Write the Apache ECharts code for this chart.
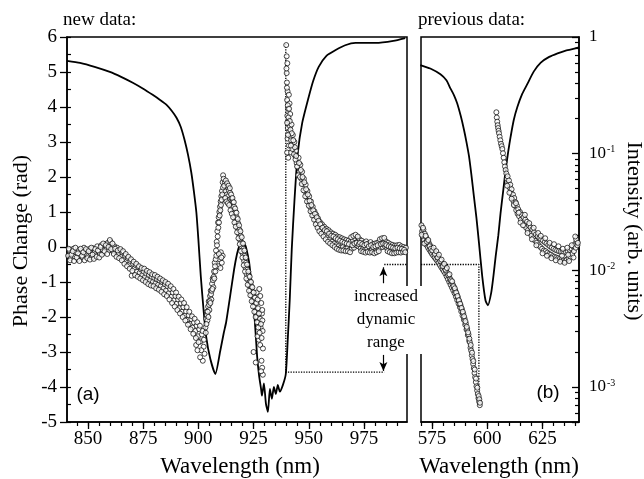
<!DOCTYPE html>
<html><head><meta charset="utf-8">
<script src="https://cdn.jsdelivr.net/npm/echarts@6/dist/echarts.min.js"></script>
<style>html,body{margin:0;padding:0;background:#fff}#c{width:644px;height:479px}</style>
</head><body><div id="c"></div>
<script>
// ---------- tick labels ----------
const xTicksA = [850, 875, 900, 925, 950, 975];
const xTicksB = [575, 600, 625];
const logMinorTicks = [0.0006,0.0007,0.0008,0.0009,0.002,0.003,0.004,0.005,0.006,0.007,0.008,0.009,
  0.02,0.03,0.04,0.05,0.06,0.07,0.08,0.09,0.2,0.3,0.4,0.5,0.6,0.7,0.8,0.9];

// ---------- panel (a): new data ----------
// measured phase change (rad) vs wavelength (nm)
const phaseA = [
[841.0,-0.25],[841.6,-0.10],[842.2,-0.32],[842.8,-0.18],[843.4,-0.05],[844.0,-0.28],[844.6,-0.15],[845.2,-0.35],[845.8,-0.08],[846.4,-0.22],
[847.0,-0.12],[847.6,-0.30],[848.2,-0.02],[848.8,-0.20],[849.4,-0.10],[850.0,-0.26],[850.6,-0.06],[851.2,-0.18],[851.8,-0.30],[852.4,-0.04],
[853.0,-0.16],[853.6,-0.24],[854.2,0.02],[854.8,-0.12],[855.4,-0.20],[856.0,0.05],[856.6,-0.08],[857.2,-0.16],[857.8,0.08],[858.4,-0.04],
[859.0,0.12],[859.6,-0.10],[860.2,0.15],[860.8,0.00],[861.4,-0.12],
[862.0,0.02],[862.6,-0.12],[863.2,-0.02],[863.8,-0.20],[864.4,-0.10],[865.0,-0.28],[865.6,-0.16],[866.2,-0.35],[866.8,-0.25],[867.4,-0.42],
[868.0,-0.32],[868.6,-0.50],[869.2,-0.40],[869.8,-0.82],[870.4,-0.48],[871.0,-0.62],[871.6,-0.52],[872.2,-0.70],[872.8,-0.58],[873.4,-0.74],
[874.0,-0.64],[874.6,-0.80],[875.2,-0.70],[875.8,-0.86],[876.4,-0.76],[877.0,-0.92],[877.6,-0.80],[878.2,-0.96],[878.8,-0.85],[879.4,-1.00],
[880.0,-0.88],[880.6,-1.04],[881.2,-0.92],[881.8,-1.08],[882.4,-0.96],[883.0,-1.12],[883.6,-1.00],[884.2,-1.18],[884.8,-1.06],[885.4,-1.24],
[886.0,-1.12],[886.6,-1.32],[887.2,-1.20],[887.8,-1.42],[888.4,-1.30],[889.0,-1.52],[889.6,-1.40],[890.2,-1.62],[890.8,-1.50],[891.4,-1.75],
[892.0,-1.60],[892.6,-1.85],[893.2,-1.72],[893.8,-1.96],[894.4,-1.84],[895.0,-2.08],[895.6,-1.95],[896.2,-2.20],[896.8,-2.06],[897.4,-2.30],
[898.0,-2.16],[898.6,-2.40],[899.2,-2.25],[899.8,-2.55],[900.4,-2.35],[901.0,-2.70],[901.6,-2.50],[902.0,-3.25],[902.4,-2.85],[902.8,-3.05],
[901.3,-2.95],[899.0,-2.80],
[903.2,-2.30],[903.5,-2.05],[903.8,-1.85],[904.1,-2.10],[904.4,-1.70],[904.7,-1.55],[905.0,-1.80],[905.3,-1.40],[905.6,-1.25],[905.9,-1.50],
[906.2,-1.05],[906.5,-0.90],[906.8,-1.15],[907.1,-0.70],[907.4,-0.45],[907.7,-0.70],[908.0,-0.10],[908.3,0.15],[908.6,0.45],[908.9,0.70],
[909.2,0.85],[909.5,1.00],[909.8,1.15],[910.1,1.30],[910.4,1.45],[910.7,1.60],[911.0,1.85],[911.2,2.05],
[909.6,-0.35],[910.2,-0.15],[910.6,-0.45],[911.0,-0.25],[909.0,-0.55],[910.0,-0.60],
[912.0,1.85],[912.3,1.60],[912.6,1.75],[912.9,1.50],[913.2,1.70],[913.5,1.45],[913.8,1.62],[914.1,1.35],[914.4,1.55],[914.7,1.25],
[915.0,1.40],[915.3,1.15],[915.6,1.30],[915.9,1.02],[916.2,1.15],[916.5,0.88],[916.8,1.00],[917.1,0.72],[917.4,0.85],[917.7,0.55],
[918.0,0.68],[918.3,0.38],[918.6,0.50],[918.9,0.20],[919.2,0.32],[919.5,0.02],[919.8,0.12],[920.1,-0.18],[920.4,-0.05],[920.7,-0.40],
[921.0,-0.25],[921.3,-0.58],[921.6,-0.45],[921.9,-0.78],[922.2,-0.65],[922.5,-0.95],[922.8,-0.82],[923.1,-1.10],[923.4,-0.98],[923.7,-1.25],
[924.0,-1.12],[924.3,-1.40],[924.6,-1.28],[924.9,-1.55],[925.2,-1.42],[925.5,-1.70],[925.8,-1.58],[926.1,-1.85],[926.4,-1.30],[926.7,-2.00],
[927.0,-1.75],[927.3,-2.15],[927.6,-1.20],[927.9,-2.05],[928.2,-2.30],[928.5,-1.60],[928.8,-1.90],[929.1,-2.40],[925.0,-3.00],[926.0,-3.30],
[927.4,-2.65],[928.0,-2.80],[928.6,-3.25],[928.9,-3.45],[929.2,-3.65],[928.4,-3.55],[926.8,-2.55],[929.0,-2.10],
[939.8,5.77],[940.0,5.45],[940.3,5.25],[940.0,4.97],[940.1,4.70],[940.4,4.45],[940.2,4.20],[940.6,3.95],[940.3,3.75],[940.9,3.60],
[940.5,3.40],[941.2,3.30],[940.4,3.10],[941.0,2.90],[940.2,2.70],[940.7,2.55],[941.5,3.45],[941.8,3.15],[942.2,3.50],[942.5,2.95],
[942.0,2.70],[942.8,3.20],[943.2,2.80],[943.5,3.00],[943.9,2.60],[944.2,2.75],[944.5,2.40],[941.3,4.10],[941.6,3.80],[941.0,4.35],
[945.0,2.30],[945.4,2.55],[945.8,2.15],[946.2,2.35],[946.6,1.95],[947.0,2.15],[947.4,1.80],[947.8,1.95],[948.2,1.60],[948.6,1.78],
[949.0,1.45],[949.4,1.60],[949.8,1.30],[950.2,1.45],[950.6,1.15],[951.0,1.30],[951.4,1.02],[951.8,1.15],[952.2,0.90],[952.6,1.02],
[953.0,0.78],[953.4,0.92],[953.8,0.68],[954.2,0.82],[954.6,0.58],[955.0,0.72],[955.5,0.50],[956.0,0.65],[956.5,0.42],[957.0,0.58],
[957.5,0.35],[958.0,0.52],[958.5,0.28],[959.0,0.48],[959.5,0.22],[960.0,0.42],[960.5,0.15],[961.0,0.38],[961.5,0.10],[962.0,0.35],
[962.5,0.05],[963.0,0.30],[963.5,0.02],[964.0,0.28],[964.5,-0.02],[965.0,0.25],[965.5,0.00],[966.0,0.22],[966.5,-0.05],[967.0,0.20],
[967.5,-0.03],[968.0,0.18],[968.5,-0.08],[969.0,0.15],[969.5,-0.05],[970.0,0.20],[970.5,-0.02],[971.0,0.25],[971.5,0.05],[972.0,0.28],
[972.5,0.02],[973.0,0.22],[973.5,-0.04],[974.0,0.18],[974.5,-0.06],[975.0,0.12],[975.5,-0.08],[976.0,0.16],[976.5,-0.04],[977.0,0.10],
[977.5,-0.10],[978.0,0.14],[978.5,-0.06],[979.0,0.08],[979.5,-0.12],[980.0,0.10],[980.5,-0.08],[981.0,0.12],[981.5,-0.05],[982.0,0.15],
[982.5,-0.02],[983.0,0.18],[983.5,0.00],[984.0,0.20],[984.5,0.02],[985.0,0.16],[985.5,-0.04],[986.0,0.12],[986.5,-0.08],[987.0,0.08],
[987.5,-0.10],[988.0,0.06],[988.5,-0.12],[989.0,0.04],[989.5,-0.10],[990.0,0.05],[990.5,-0.08],[991.0,0.06],[991.5,-0.12],[992.0,0.02],
[992.5,-0.06],[993.0,0.00],[993.5,-0.10],[994.0,-0.02]
];
// second scan of the same measurement (fills out the scatter band)
const phaseA2 = [
[841.3,-0.05],[841.9,-0.38],[842.5,-0.22],[843.1,-0.12],[843.7,-0.40],[844.3,-0.02],[844.9,-0.30],[845.5,-0.18],[846.1,-0.40],[846.7,-0.05],
[847.3,-0.25],[847.9,-0.15],[848.5,-0.38],[849.1,-0.06],[849.7,-0.32],[850.3,-0.12],[850.9,-0.36],[851.5,-0.02],[852.1,-0.22],[852.7,-0.34],
[853.3,-0.06],[853.9,-0.28],[854.5,-0.10],[855.1,-0.30],[855.7,0.00],[856.3,-0.22],[856.9,0.10],[857.5,-0.12],[858.1,0.05],[858.7,-0.20],
[859.3,0.00],[859.9,0.20],[860.5,-0.06],[861.1,0.10],[861.7,-0.20],[862.3,-0.05],[862.9,-0.28],[863.5,-0.10],[864.1,-0.32],[864.7,-0.06],
[865.3,-0.38],[865.9,-0.12],[866.5,-0.48],[867.1,-0.20],[867.7,-0.55],[868.3,-0.28],[868.9,-0.62],[869.5,-0.35],[870.1,-0.68],[870.7,-0.42],
[871.3,-0.80],[871.9,-0.48],[872.5,-0.85],[873.1,-0.55],[873.7,-0.90],[874.3,-0.60],[874.9,-0.95],[875.5,-0.62],[876.1,-1.00],[876.7,-0.68],
[877.3,-1.06],[877.9,-0.72],[878.5,-1.10],[879.1,-0.78],[879.7,-1.12],[880.3,-0.80],[880.9,-1.18],[881.5,-0.85],[882.1,-1.22],[882.7,-0.90],
[883.3,-1.28],[883.9,-0.95],[884.5,-1.35],[885.1,-1.00],[885.7,-1.40],[886.3,-1.05],[886.9,-1.50],[887.5,-1.12],[888.1,-1.60],[888.7,-1.20],
[889.3,-1.70],[889.9,-1.30],[890.5,-1.80],[891.1,-1.42],[891.7,-1.90],[892.3,-1.50],[892.9,-2.00],[893.5,-1.60],[894.1,-2.10],[894.7,-1.72],
[895.3,-2.22],[895.9,-1.85],[896.5,-2.35],[897.1,-1.98],[897.7,-2.48],[898.3,-2.05],[898.9,-2.60],[899.5,-2.15],[900.1,-2.72],[900.7,-2.25],
[901.9,-2.40],[902.5,-2.65],[900.8,-3.15],[899.6,-2.95],
[903.35,-2.45],[903.65,-2.20],[903.95,-1.95],[904.25,-1.85],[904.55,-2.00],[904.85,-1.65],[905.15,-1.55],[905.45,-1.60],[905.75,-1.35],[906.05,-1.25],
[906.35,-1.20],[906.65,-0.95],[906.95,-0.85],[907.25,-0.90],[907.55,-0.55],[907.85,-0.35],[908.15,-0.25],[908.45,0.05],[908.75,0.30],[909.05,0.55],
[909.35,0.70],[909.65,0.90],[909.95,1.05],[910.25,1.20],[910.55,1.35],[910.85,1.50],[911.15,1.70],[911.45,1.95],[911.7,1.75],[909.3,-0.20],[910.4,-0.30],
[912.15,1.40],[912.45,1.90],[912.75,1.30],[913.05,1.82],[913.35,1.25],[913.65,1.75],[913.95,1.20],[914.25,1.68],[914.55,1.05],[914.85,1.50],
[915.15,0.95],[915.45,1.40],[915.75,0.85],[916.05,1.28],[916.35,0.70],[916.65,1.10],[916.95,0.58],[917.25,0.98],[917.55,0.42],[917.85,0.80],
[918.15,0.25],[918.45,0.62],[918.75,0.08],[919.05,0.45],[919.35,-0.12],[919.65,0.28],[919.95,-0.30],[920.25,0.10],[920.55,-0.52],[920.85,-0.10],
[921.15,-0.70],[921.45,-0.30],[921.75,-0.90],[922.05,-0.50],[922.35,-1.08],[922.65,-0.70],[922.95,-1.25],[923.25,-0.85],[923.55,-1.38],[923.85,-1.00],
[924.15,-1.55],[924.45,-1.15],[924.75,-1.70],[925.05,-1.30],[925.35,-1.85],[925.65,-1.45],[925.95,-2.00],[926.25,-1.60],[926.55,-2.15],[926.85,-1.50],
[927.15,-2.30],[927.45,-1.90],[927.75,-2.45],[928.05,-1.40],[928.35,-2.20],[928.65,-2.60],[928.95,-1.80],[929.25,-2.90],
[939.9,5.10],[940.1,4.55],[940.5,4.05],[940.8,3.70],[941.1,3.95],[941.4,3.60],[941.7,3.35],[942.0,3.05],[942.3,3.25],[942.6,2.80],
[943.0,3.05],[943.3,2.65],[943.7,2.85],[944.0,2.50],[944.3,2.60],[944.7,2.30],[940.6,3.20],[941.9,2.90],[940.2,3.55],
[945.2,2.05],[945.6,2.40],[946.0,2.00],[946.4,2.20],[946.8,1.80],[947.2,2.00],[947.6,1.62],[948.0,1.85],[948.4,1.45],[948.8,1.65],
[949.2,1.30],[949.6,1.50],[950.0,1.18],[950.4,1.32],[950.8,1.02],[951.2,1.20],[951.6,0.90],[952.0,1.05],[952.4,0.78],[952.8,0.95],
[953.2,0.65],[953.6,0.85],[954.0,0.55],[954.4,0.75],[954.8,0.45],[955.2,0.65],[955.7,0.38],[956.2,0.55],[956.7,0.30],[957.2,0.48],
[957.7,0.22],[958.2,0.45],[958.7,0.15],[959.2,0.38],[959.7,0.10],[960.2,0.32],[960.7,0.05],[961.2,0.30],[961.7,0.00],[962.2,0.25],
[962.7,-0.05],[963.2,0.22],[963.7,-0.08],[964.2,0.18],[964.7,-0.10],[965.2,0.15],[965.7,-0.10],[966.2,0.12],[966.7,-0.12],[967.2,0.10],
[967.7,-0.12],[968.2,0.08],[968.7,-0.15],[969.2,0.28],[969.7,0.05],[970.2,0.32],[970.7,0.10],[971.2,0.35],[971.7,0.12],[972.2,0.30],
[972.7,0.08],[973.2,0.12],[973.7,-0.12],[974.2,0.08],[974.7,-0.14],[975.2,0.05],[975.7,-0.16],[976.2,0.08],[976.7,-0.14],[977.2,0.02],
[977.7,-0.16],[978.2,0.05],[978.7,-0.15],[979.2,0.00],[979.7,-0.18],[980.2,0.02],[980.7,-0.15],[981.2,0.05],[981.7,-0.12],[982.2,0.22],
[982.7,0.08],[983.2,0.25],[983.7,0.10],[984.2,0.26],[984.7,0.08],[985.2,0.05],[985.7,-0.12],[986.2,0.02],[986.7,-0.15],[987.2,0.00],
[987.7,-0.18],[988.2,-0.02],[988.7,-0.18],[989.2,-0.04],[989.7,-0.16],[990.2,-0.02],[990.7,-0.15],[991.2,-0.04],[991.7,-0.16],[992.2,-0.05],
[992.7,-0.14],[993.2,-0.08],[993.7,-0.15]
];
// transmitted intensity (arb. units) vs wavelength (nm)
const intensityA = [
[840.5,0.624],[846.4,0.600],[853.0,0.555],[859.9,0.502],[865.0,0.455],[870.3,0.405],[875.0,0.360],[879.3,0.319],[882.5,0.290],[885.6,0.262],
[888.0,0.232],[890.1,0.203],[892.0,0.170],[893.7,0.132],[895.3,0.098],[896.8,0.0689],[898.0,0.0470],[899.1,0.0313],[900.0,0.0184],[901.1,0.00889],
[902.3,0.00470],[903.5,0.00273],[905.4,0.00174],[907.7,0.00129],[909.9,0.00203],[911.5,0.00290],[912.6,0.00360],[914.5,0.00620],[916.2,0.0102],[917.5,0.0138],
[918.5,0.0160],[919.8,0.0177],[921.0,0.0166],[921.6,0.0157],[923.0,0.0117],[924.2,0.00720],[925.2,0.00465],[926.6,0.00184],[927.5,0.00125],[928.4,0.00096],
[928.8,0.00084],[929.7,0.00107],[930.6,0.00072],[931.5,0.00061],[932.4,0.00096],[933.3,0.00079],[934.2,0.00100],[935.1,0.00087],[936.0,0.00104],[936.9,0.00091],
[938.3,0.00104],[939.6,0.00129],[940.5,0.00257],[941.4,0.00565],[942.3,0.0151],[943.5,0.0389],[945.0,0.100],[947.0,0.182],[950.0,0.307],[952.0,0.420],
[954.5,0.555],[958.0,0.690],[962.2,0.774],[966.5,0.850],[971.2,0.889],[980.2,0.889],[988.3,0.925],[993.7,0.979]
];

// ---------- panel (b): previous data ----------
const phaseB = [
[570.2,0.62],[570.5,0.45],[570.8,0.30],[571.1,0.50],[571.4,0.20],[571.7,0.38],[572.0,0.12],[572.3,0.28],[572.6,0.05],[572.9,0.20],
[573.2,-0.02],[573.5,0.12],[573.8,-0.08],[574.1,0.05],[574.4,-0.14],[574.7,-0.02],[575.0,-0.20],[575.3,-0.08],[575.6,-0.25],[575.9,-0.12],
[576.2,-0.30],[576.5,-0.18],[576.8,-0.35],[577.1,-0.22],[577.4,-0.40],[577.7,-0.28],[578.0,-0.45],[578.3,-0.34],[578.6,-0.52],[578.9,-0.40],
[579.2,-0.58],[579.5,-0.46],[579.8,-0.64],[580.1,-0.52],[580.4,-0.70],[580.7,-0.60],[581.0,-0.76],[581.3,-0.66],[581.6,-0.84],[581.9,-0.74],
[582.2,-0.92],[582.5,-0.82],[582.8,-1.00],[583.1,-0.90],[583.4,-1.08],[583.7,-0.98],[584.0,-1.16],[584.3,-1.06],[584.6,-1.24],[584.9,-1.15],
[585.2,-1.32],[585.5,-1.24],[585.8,-1.42],[586.1,-1.34],[586.4,-1.52],[586.7,-1.44],[587.0,-1.62],[587.3,-1.55],[587.6,-1.72],[587.9,-1.66],
[588.2,-1.84],[588.5,-1.78],[588.8,-1.96],[589.1,-1.90],[589.4,-2.08],[589.7,-2.04],[590.0,-2.22],[590.3,-2.18],[590.6,-2.36],[590.9,-2.34],
[591.2,-2.52],[591.5,-2.50],[591.8,-2.68],[592.1,-2.72],[592.4,-2.88],[592.7,-2.96],[593.0,-3.10],[593.3,-3.20],[593.6,-3.34],[593.9,-3.46],
[594.2,-3.60],[594.5,-3.72],[594.8,-3.86],[595.1,-3.98],[595.4,-4.10],[595.7,-4.20],[596.0,-4.32],[596.3,-4.42],[596.6,-4.52],
[604.1,3.85],[604.3,3.70],[604.5,3.58],[604.7,3.48],[604.9,3.40],[605.1,3.32],[605.3,3.25],[605.6,3.15],[605.9,3.05],[606.2,2.95],
[606.5,2.88],[606.8,2.80],[607.1,2.68],[607.4,2.55],[607.7,2.42],[608.0,2.30],[608.3,2.20],[608.6,2.10],[608.9,1.95],[609.2,2.02],
[609.5,1.82],[609.8,1.90],[610.1,1.70],[610.4,1.78],[610.7,1.55],[611.0,1.65],[611.3,1.42],[611.6,1.50],[611.9,1.30],[612.2,1.40],
[612.5,1.18],[612.8,1.28],[613.1,1.05],[613.4,1.18],[613.7,0.95],[614.0,1.08],[614.4,0.88],[614.8,1.00],[615.2,0.78],[615.6,0.92],
[616.0,0.70],[616.4,0.85],[616.8,0.62],[617.2,0.78],[617.6,0.55],[618.0,0.72],[618.4,0.48],[618.8,0.62],[619.2,0.40],[619.6,0.56],
[620.0,0.32],[620.4,0.50],[620.8,0.25],[621.2,0.42],[621.6,0.18],[622.0,0.36],[622.4,0.12],[622.8,0.30],[623.2,0.05],[623.6,0.26],
[624.0,0.00],[624.4,0.22],[624.8,-0.05],[625.2,0.18],[625.6,-0.10],[626.0,0.14],[626.4,-0.12],[626.8,0.10],[627.2,-0.16],[627.6,0.06],
[628.0,-0.20],[628.4,0.02],[628.8,-0.22],[629.2,-0.02],[629.6,-0.26],[630.0,-0.05],[630.4,-0.28],[630.8,-0.08],[631.2,-0.30],[631.6,-0.10],
[632.0,-0.32],[632.4,-0.12],[632.8,-0.34],[633.2,-0.14],[633.6,-0.36],[634.0,-0.15],[634.4,-0.38],[634.8,-0.16],[635.2,-0.40],[635.6,-0.14],
[636.0,-0.36],[636.4,-0.12],[636.8,-0.32],[637.2,-0.08],[637.6,-0.28],[638.0,-0.04],[638.4,-0.20],[638.8,0.02],[639.2,-0.12],[639.6,0.08],
[640.0,-0.02],[640.4,0.15],[640.8,0.05]
];
const phaseB2 = [
[570.3,0.35],[570.9,0.55],[571.5,0.10],[572.1,0.32],[572.7,0.15],[573.3,0.20],[573.9,0.02],[574.5,-0.05],[575.1,-0.10],[575.7,-0.02],
[576.3,-0.20],[576.9,-0.12],[577.5,-0.30],[578.1,-0.22],[578.7,-0.40],[579.3,-0.36],[579.9,-0.55],[580.5,-0.48],[581.1,-0.65],[581.7,-0.60],
[582.3,-0.80],[582.9,-0.78],[583.5,-0.95],[584.1,-0.98],[584.7,-1.12],[585.3,-1.18],[585.9,-1.30],[586.5,-1.40],[587.1,-1.52],[587.7,-1.62],
[588.3,-1.74],[588.9,-1.85],[589.5,-1.98],[590.1,-2.12],[590.7,-2.28],[591.3,-2.44],[591.9,-2.62],[592.5,-2.80],[593.1,-3.02],[593.7,-3.26],
[594.3,-3.50],[594.9,-3.76],[595.5,-4.02],[596.1,-4.26],[596.4,-4.35],[596.7,-4.45],
[609.0,1.75],[610.0,1.55],[611.0,1.38],[612.0,1.20],[613.0,1.25],[614.2,0.98],[615.0,0.70],[616.2,0.62],[617.0,0.92],[618.2,0.40],
[619.0,0.68],[620.2,0.22],[621.0,0.55],[622.2,0.05],[623.0,0.40],[624.2,0.32],[625.0,-0.18],[626.2,0.25],[627.0,-0.25],[628.2,0.12],
[629.0,-0.32],[630.2,0.08],[631.0,-0.38],[632.2,0.02],[633.0,-0.42],[634.2,-0.05],[635.0,-0.45],[636.2,-0.02],[637.0,-0.40],[638.2,0.05],
[639.0,-0.30],[640.2,0.22],[641.0,0.12],[633.8,-0.25],[636.6,-0.22],[639.8,0.30]
];
const intensityB = [
[569.7,0.575],[574.2,0.537],[578.8,0.479],[581.5,0.425],[583.3,0.363],[585.0,0.315],[586.4,0.269],[588.0,0.210],[589.4,0.162],[590.6,0.125],
[591.7,0.0955],[592.8,0.0660],[593.9,0.0437],[595.1,0.0280],[596.2,0.0174],[597.7,0.00891],[599.2,0.00550],[600.3,0.00501],[601.8,0.00646],[602.8,0.00900],
[603.8,0.0132],[605.0,0.0200],[606.0,0.0309],[607.2,0.0480],[608.3,0.0724],[609.5,0.105],[610.6,0.141],[612.0,0.195],[613.6,0.251],[615.8,0.325],
[618.2,0.398],[621.0,0.505],[624.2,0.603],[628.0,0.675],[631.8,0.724],[635.5,0.765],[639.4,0.794],[641.5,0.813]
];

// "increased dynamic range" guide levels
const guideA = [[939.6,0.871],[939.6,0.00134],[984.2,0.00134]];
const guideA2 = [[984.2,0.0112],[994.5,0.0112]];
const guideB = [[570,0.0112],[596.2,0.0112],[596.2,0.000689]];
const arrowX = 983.8;

const xMinorA = []; for (let v = 845; v <= 990; v += 5) xMinorA.push(v);
const xMinorB = []; for (let v = 570; v <= 640; v += 5) xMinorB.push(v);
const logMin = 0.0005;

const serif = "'Liberation Serif', 'Times New Roman', serif";
const sans = "'Liberation Sans', Arial, sans-serif";
const K = '#000';

const chart = echarts.init(document.getElementById('c'));

function xMain(grid, min, max, ticks) {
  return {gridIndex: grid, type: 'value', min: min, max: max, position: 'bottom',
    axisLine: {show: true, onZero: false, lineStyle: {color: K, width: 1.5}},
    axisTick: {show: true, customValues: ticks, length: 7, lineStyle: {color: K, width: 1.3}},
    axisLabel: {customValues: ticks, color: K, fontFamily: serif, fontSize: 19, margin: 8},
    splitLine: {show: false}};
}
function xMinor(grid, min, max, ticks) {
  return {gridIndex: grid, type: 'value', min: min, max: max, position: 'bottom',
    axisLine: {show: false, onZero: false},
    axisTick: {show: true, customValues: ticks, length: 4, lineStyle: {color: K, width: 1.2}},
    axisLabel: {show: false}, splitLine: {show: false}};
}
function logLabel(v) {
  const l = Math.log10(v), e = Math.round(l);
  if (Math.abs(l - e) > 1e-6) return '';
  if (e === 0) return '1';
  return '{a|10}{s|' + e + '}';
}
const circleStyle = {color: '#fff', borderColor: K, borderWidth: 0.9};

const option = {
  animation: false,
  backgroundColor: '#fff',
  grid: [
    {left: 67, top: 37, width: 340, height: 385, show: true, borderColor: K, borderWidth: 1.5},
    {left: 421, top: 37, width: 158, height: 385, show: true, borderColor: K, borderWidth: 1.5}
  ],
  xAxis: [
    xMain(0, 840.5, 994.5, xTicksA),
    xMinor(0, 840.5, 994.5, xMinorA),
    xMain(1, 570, 641.5, xTicksB),
    xMinor(1, 570, 641.5, xMinorB)
  ],
  yAxis: [
    {gridIndex: 0, type: 'value', min: -5, max: 6, interval: 1, position: 'left',
      axisLine: {show: true, onZero: false, lineStyle: {color: K, width: 1.5}},
      axisTick: {show: true, length: 7, lineStyle: {color: K, width: 1.3}},
      axisLabel: {color: K, fontFamily: serif, fontSize: 19, margin: 10},
      splitLine: {show: false}},
    {gridIndex: 0, type: 'value', min: -5, max: 6, interval: 0.5, position: 'left',
      axisLine: {show: false, onZero: false},
      axisTick: {show: true, inside: true, length: 4, lineStyle: {color: K, width: 1.2}},
      axisLabel: {show: false}, splitLine: {show: false}},
    {gridIndex: 0, type: 'log', logBase: 10, min: logMin, max: 1, show: false},
    {gridIndex: 1, type: 'log', logBase: 10, min: logMin, max: 1, position: 'right',
      axisLine: {show: true, onZero: false, lineStyle: {color: K, width: 1.5}},
      axisTick: {show: true, inside: true, length: 7, lineStyle: {color: K, width: 1.3}},
      axisLabel: {color: K, fontFamily: serif, fontSize: 17, margin: 10, formatter: logLabel,
        rich: {a: {fontFamily: serif, fontSize: 17, color: K},
               s: {fontFamily: serif, fontSize: 10, color: K, verticalAlign: 'top', padding: [0, 0, 8, 1]}}},
      splitLine: {show: false}},
    // minor ticks of the log intensity axis, placed in decades
    {gridIndex: 1, type: 'value', min: Math.log10(logMin), max: 0, position: 'right',
      axisLine: {show: false, onZero: false},
      axisTick: {show: true, inside: true, customValues: logMinorTicks.map(Math.log10), length: 4, lineStyle: {color: K, width: 1.2}},
      axisLabel: {show: false}, splitLine: {show: false}},
    {gridIndex: 1, type: 'value', min: -5, max: 6, show: false}
  ],
  series: [
    {type: 'line', name: 'intensityA', xAxisIndex: 0, yAxisIndex: 2, data: intensityA, symbol: 'none',
      smooth: 0.2, lineStyle: {color: K, width: 1.8}, z: 2},
    {type: 'line', name: 'guideA', xAxisIndex: 0, yAxisIndex: 2, data: guideA, symbol: 'none',
      lineStyle: {color: K, width: 1.3, type: 'dotted'}, z: 1,
      markLine: {silent: true, symbol: ['none', 'arrow'], symbolSize: [6, 9], label: {show: false},
        lineStyle: {color: K, width: 1.2, type: 'solid'},
        data: [[{coord: [arrowX, 0.00774]}, {coord: [arrowX, 0.0106]}],
               [{coord: [arrowX, 0.00188]}, {coord: [arrowX, 0.00137]}]]}},
    {type: 'line', name: 'guideA2', xAxisIndex: 0, yAxisIndex: 2, data: guideA2, symbol: 'none',
      lineStyle: {color: K, width: 1.3, type: 'dotted'}, z: 1},
    {type: 'scatter', name: 'phaseA', xAxisIndex: 0, yAxisIndex: 0, data: phaseA, symbol: 'circle', symbolSize: 5,
      itemStyle: circleStyle, z: 3},
    {type: 'scatter', name: 'phaseA2', xAxisIndex: 0, yAxisIndex: 0, data: phaseA2, symbol: 'circle', symbolSize: 5,
      itemStyle: circleStyle, z: 3},
    {type: 'line', name: 'intensityB', xAxisIndex: 2, yAxisIndex: 3, data: intensityB, symbol: 'none',
      smooth: 0.2, lineStyle: {color: K, width: 1.8}, z: 2},
    {type: 'line', name: 'guideB', xAxisIndex: 2, yAxisIndex: 3, data: guideB, symbol: 'none',
      lineStyle: {color: K, width: 1.3, type: 'dotted'}, z: 1},
    {type: 'scatter', name: 'phaseB', xAxisIndex: 2, yAxisIndex: 5, data: phaseB, symbol: 'circle', symbolSize: 5,
      itemStyle: circleStyle, z: 3},
    {type: 'scatter', name: 'phaseB2', xAxisIndex: 2, yAxisIndex: 5, data: phaseB2, symbol: 'circle', symbolSize: 5,
      itemStyle: circleStyle, z: 3}
  ],
  graphic: [
    {type: 'text', x: 63, y: 20, style: {text: 'new data:', font: '19px ' + serif, fill: K, align: 'left', verticalAlign: 'middle'}},
    {type: 'text', x: 418, y: 20, style: {text: 'previous data:', font: '19px ' + serif, fill: K, align: 'left', verticalAlign: 'middle'}},
    {type: 'text', x: 21, y: 241, rotation: Math.PI / 2, style: {text: 'Phase Change (rad)', font: '22px ' + serif, fill: K, align: 'center', verticalAlign: 'middle'}},
    {type: 'text', x: 634, y: 231, rotation: -Math.PI / 2, style: {text: 'Intensity (arb. units)', font: '22px ' + serif, fill: K, align: 'center', verticalAlign: 'middle'}},
    {type: 'text', x: 240, y: 467, style: {text: 'Wavelength (nm)', font: '23px ' + serif, fill: K, align: 'center', verticalAlign: 'middle'}},
    {type: 'text', x: 499, y: 467, style: {text: 'Wavelength (nm)', font: '23px ' + serif, fill: K, align: 'center', verticalAlign: 'middle'}},
    {type: 'text', x: 88, y: 395, style: {text: '(a)', font: '19px ' + sans, fill: K, align: 'center', verticalAlign: 'middle'}},
    {type: 'text', x: 548, y: 393, style: {text: '(b)', font: '19px ' + sans, fill: K, align: 'center', verticalAlign: 'middle'}},
    {type: 'rect', z: 100, shape: {x: 400, y: 286, width: 28, height: 68}, style: {fill: '#fff'}},
    {type: 'text', z: 101, x: 386, y: 297, style: {text: 'increased', font: '17px ' + serif, fill: K, align: 'center', verticalAlign: 'middle'}},
    {type: 'text', z: 101, x: 386, y: 320, style: {text: 'dynamic', font: '17px ' + serif, fill: K, align: 'center', verticalAlign: 'middle'}},
    {type: 'text', z: 101, x: 386, y: 343, style: {text: 'range', font: '17px ' + serif, fill: K, align: 'center', verticalAlign: 'middle'}}
  ]
};
chart.setOption(option);
</script>
</body></html>
